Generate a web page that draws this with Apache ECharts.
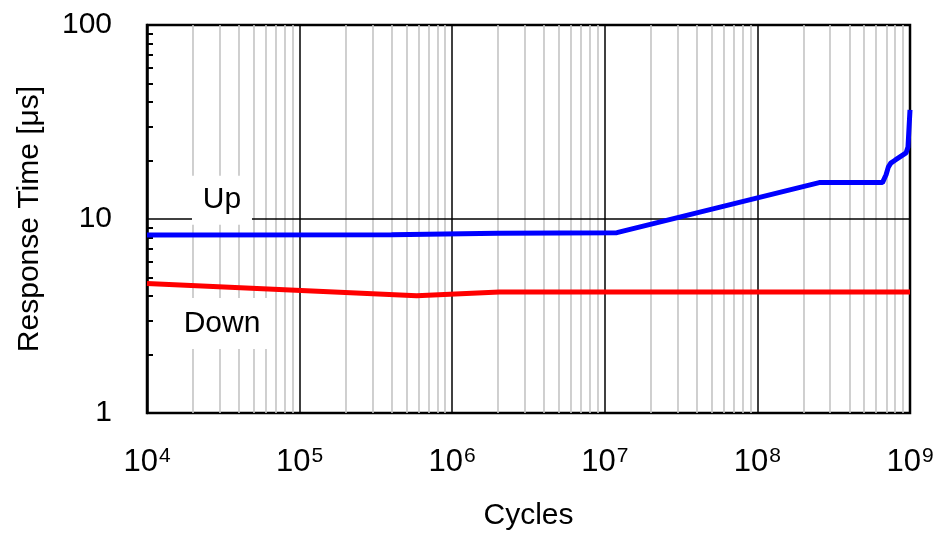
<!DOCTYPE html>
<html>
<head>
<meta charset="utf-8">
<script src="https://cdn.jsdelivr.net/npm/echarts@6/dist/echarts.min.js"></script>
<style>html,body{margin:0;padding:0;background:#fff}#c{width:935px;height:538px}</style>
</head>
<body>
<div id="c"></div>
<script>
// Data
const upData = [
  [1e4, 8.27], [4e5, 8.3], [2e6, 8.45], [1.2e7, 8.5], [2.54e8, 15.4],
  [6.6e8, 15.4], [6.97e8, 16.9], [7.21e8, 18.5], [7.48e8, 19.4],
  [7.98e8, 20.1], [9.42e8, 21.9], [9.7e8, 23.5], [1e9, 36.5]
];
const downData = [
  [1e4, 4.65], [5.85e5, 4.02], [2.04e6, 4.2], [1e9, 4.2]
];
const xMajorTicks = [1e4, 1e5, 1e6, 1e7, 1e8, 1e9];
const yTickLabels = [1, 10, 100];
const xMinor = [];
for (let d = 4; d < 9; d++) for (let k = 2; k <= 9; k++) xMinor.push(k * Math.pow(10, d));
const yMinor = [];
for (let d = 0; d < 2; d++) for (let k = 2; k <= 9; k++) yMinor.push(k * Math.pow(10, d));
const seriesLabels = [
  { name: 'Up', coord: [3.1e4, 12.5], size: [60, 49] },
  { name: 'Down', coord: [3.1e4, 2.89], size: [96, 51] }
];

const FONT = '"Liberation Sans", Arial, sans-serif';
const chart = echarts.init(document.getElementById('c'), null, { renderer: 'canvas' });
chart.setOption({
  animation: false,
  backgroundColor: '#fff',
  grid: { left: 147, right: 25, top: 25, bottom: 125, show: true, borderColor: '#000', borderWidth: 2.5, outerBoundsMode: 'none' },
  xAxis: {
    type: 'log', logBase: 10, min: 1e4, max: 1e9, splitNumber: 5,
    name: 'Cycles', nameLocation: 'middle', nameGap: 88,
    nameTextStyle: { fontFamily: FONT, fontSize: 30, color: '#000' },
    axisLine: { show: false },
    axisTick: { show: false },
    axisLabel: {
      margin: 33, color: '#000', fontFamily: FONT,
      formatter: v => '{b|10}{s|' + Math.round(Math.log10(v)) + '}',
      rich: {
        b: { fontSize: 31, fontFamily: FONT, color: '#000' },
        s: { fontSize: 21, fontFamily: FONT, color: '#000', verticalAlign: 'top', padding: [0, 0, 12, 1] }
      }
    },
    splitLine: { show: true, lineStyle: { color: '#000', width: 1.5 } }
  },
  yAxis: {
    type: 'log', logBase: 10, min: 1, max: 100,
    name: 'Response Time [μs]', nameLocation: 'middle', nameGap: 102,
    nameTextStyle: { fontFamily: FONT, fontSize: 30, color: '#000' },
    axisLine: { show: true, lineStyle: { color: '#000', width: 2.5 } },
    axisTick: { show: true, inside: true, length: 6, customValues: yMinor, lineStyle: { color: '#000', width: 2 } },
    axisLabel: { margin: 35, fontFamily: FONT, fontSize: 30, color: '#000', customValues: yTickLabels, formatter: v => String(v) },
    splitLine: { show: false }
  },
  series: [
    {
      type: 'line', name: 'Down', data: downData, z: 10,
      showSymbol: false, symbol: 'none',
      lineStyle: { color: '#ff0000', width: 5 },
      markLine: {
        z: 1, silent: true, symbol: ['none', 'none'], label: { show: false },
        animation: false,
        data: xMinor.map(v => ({ xAxis: v, lineStyle: { color: '#c4c4c4', width: 1.6, type: 'solid' } }))
          .concat([{ yAxis: 10, lineStyle: { color: '#000', width: 1.5, type: 'solid' } }])
      },
      markPoint: {
        z: 3, silent: true, animation: false,
        data: seriesLabels.map(l => ({
          coord: l.coord, symbol: 'rect', symbolSize: l.size,
          itemStyle: { color: '#fff' },
          label: { show: true, position: 'inside', formatter: l.name, fontFamily: FONT, fontSize: 30, color: '#000' }
        }))
      }
    },
    {
      type: 'line', name: 'Up', data: upData, z: 10,
      showSymbol: false, symbol: 'none',
      lineStyle: { color: '#0000ff', width: 5 }
    }
  ]
});
</script>
</body>
</html>
